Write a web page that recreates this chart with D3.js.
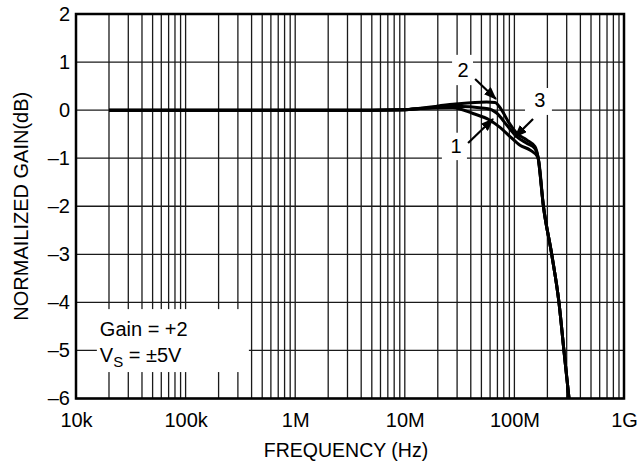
<!DOCTYPE html>
<meta charset="utf-8">
<style>
body { margin: 0; background: #fff; }
text { font-family: "Liberation Sans", Arial, sans-serif; fill: #000; }
.grid line { stroke: #1a1a1a; stroke-width: 1.3px; }
.curve { fill: none; stroke: #000; stroke-width: 3px; stroke-linejoin: round; }
</style>
<svg width="639" height="462"></svg>
<script src="https://cdn.jsdelivr.net/npm/d3@7"></script>
<script>

var svg = d3.select("svg");

// x tick values and labels
var xTicks = [1e4, 1e5, 1e6, 1e7, 1e8, 1e9];
var xTickLabels = ["10k", "100k", "1M", "10M", "100M", "1G"];
var yTicks = [-6, -5, -4, -3, -2, -1, 0, 1, 2];

// curve 1 (lowest near the peak)
var freq1 = [2e4, 1e5, 1e6, 5e6, 1e7, 13.8e6, 27.5e6, 41.9e6, 59.8e6, 73.9e6, 91.2e6, 112.5e6, 138.7e6, 164e6, 184e6, 219e6, 255e6, 283e6, 315e6, 350e6];
var gain1 = [0, 0, 0, 0, 0.01, 0.035, 0.05, -0.07, -0.21, -0.36, -0.55, -0.73, -0.83, -0.98, -2, -3, -4, -5, -6, -7];

// curve 2 (highest peak)
var freq2 = [2e4, 1e5, 1e6, 5e6, 1e7, 13.8e6, 27.5e6, 55.8e6, 66.5e6, 76.6e6, 88e6, 105e6, 129.5e6, 154e6, 164e6, 184e6, 219e6, 255e6, 283e6, 315e6, 350e6];
var gain2 = [0, 0, 0, 0, 0.01, 0.04, 0.12, 0.17, 0.16, 0, -0.24, -0.48, -0.62, -0.76, -0.97, -2, -3, -4, -5, -6, -7];

// curve 3 (middle)
var freq3 = [2e4, 1e5, 1e6, 5e6, 1e7, 13.8e6, 27.5e6, 55.8e6, 68.9e6, 85.1e6, 105e6, 129.5e6, 154e6, 164e6, 184e6, 219e6, 255e6, 283e6, 315e6, 350e6];
var gain3 = [0, 0, 0, 0, 0.01, 0.035, 0.08, 0.035, -0.06, -0.31, -0.55, -0.69, -0.8, -0.97, -2, -3, -4, -5, -6, -7];

var pL = 76, pR = 624, pT = 14, pB = 398.5;

var x = d3.scaleLog().domain([1e4, 1e9]).range([pL, pR]);
var y = d3.scaleLinear().domain([-6, 2]).range([pB, pT]);

// grid
var grid = svg.append("g").attr("class", "grid");
grid.selectAll(".v")
  .data(x.ticks())
  .enter().append("line")
    .attr("x1", function(d) { return x(d); })
    .attr("x2", function(d) { return x(d); })
    .attr("y1", pT)
    .attr("y2", pB);
grid.selectAll(".h")
  .data(yTicks)
  .enter().append("line")
    .attr("x1", pL)
    .attr("x2", pR)
    .attr("y1", function(d) { return y(d); })
    .attr("y2", function(d) { return y(d); });

// white boxes behind annotations (data coords)
var boxes = [
  {f0: 15.5e3, f1: 378e3, g0: -4.14, g1: -5.45},
  {f0: 27e6, f1: 41.9e6, g0: 1.15, g1: 0.52},
  {f0: 125e6, f1: 220e6, g0: 0.46, g1: -0.1},
  {f0: 21.8e6, f1: 36.9e6, g0: -0.47, g1: -1.04}
];
svg.selectAll(".box")
  .data(boxes)
  .enter().append("rect")
    .attr("x", function(d) { return x(d.f0); })
    .attr("y", function(d) { return y(d.g0); })
    .attr("width", function(d) { return x(d.f1) - x(d.f0); })
    .attr("height", function(d) { return y(d.g1) - y(d.g0); })
    .attr("fill", "#fff");

// curves
svg.append("clipPath").attr("id", "clip")
  .append("rect")
    .attr("x", pL).attr("y", pT)
    .attr("width", pR - pL).attr("height", pB - pT);

var line = d3.line()
    .x(function(d) { return x(d[0]); })
    .y(function(d) { return y(d[1]); })
    .curve(d3.curveMonotoneX);

[[freq1, gain1], [freq2, gain2], [freq3, gain3]].forEach(function(s) {
  svg.append("path")
    .attr("class", "curve")
    .attr("clip-path", "url(#clip)")
    .attr("d", line(d3.zip(s[0], s[1])));
});

// frame
svg.append("rect")
    .attr("x", pL).attr("y", pT)
    .attr("width", pR - pL).attr("height", pB - pT)
    .attr("fill", "none")
    .attr("stroke", "#000")
    .attr("stroke-width", 2.5);

// axes
var xAxis = svg.append("g")
    .attr("transform", "translate(0," + (pB + 10) + ")")
    .call(d3.axisBottom(x).tickValues(xTicks)
      .tickFormat(function(d, i) { return xTickLabels[i]; })
      .tickSize(0));
xAxis.select(".domain").remove();
xAxis.selectAll("text").attr("font-size", 20).attr("dy", "0.71em").attr("y", 4)
    .style("font-family", "Liberation Sans, Arial, sans-serif");

var yAxis = svg.append("g")
    .attr("transform", "translate(" + (pL - 6) + ",0)")
    .call(d3.axisLeft(y).tickValues(yTicks)
      .tickFormat(function(d) { return d < 0 ? "\u2013" + (-d) : d; })
      .tickSize(0));
yAxis.select(".domain").remove();
yAxis.selectAll("text").attr("font-size", 20).attr("x", 0)
    .style("font-family", "Liberation Sans, Arial, sans-serif");

// titles
svg.append("text")
    .attr("x", (pL + pR) / 2 - 4)
    .attr("y", 457)
    .attr("text-anchor", "middle")
    .attr("font-size", 19.5)
    .text("FREQUENCY (Hz)");

svg.append("text")
    .attr("transform", "translate(28," + (pT + pB) / 2 + ") rotate(-90)")
    .attr("text-anchor", "middle")
    .attr("font-size", 20)
    .text("NORMAILIZED GAIN(dB)");

// condition box text
svg.append("text")
    .attr("x", x(16.5e3))
    .attr("y", 336)
    .attr("font-size", 20)
    .text("Gain = +2");
var vs = svg.append("text")
    .attr("x", x(16.5e3))
    .attr("y", 362)
    .attr("font-size", 20);
vs.append("tspan").text("V");
vs.append("tspan").attr("font-size", 15).attr("dy", 5).text("S");
vs.append("tspan").attr("dy", -5).text(" = \u00b15V");

// curve labels and arrows
var labels = [
  {t: "2", f: 34e6, g: 0.835},
  {t: "3", f: 171e6, g: 0.211},
  {t: "1", f: 29.3e6, g: -0.746}
];
var arrows = [
  {f0: 43.8e6, g0: 0.648, f1: 67.9e6, g1: 0.232},
  {f0: 148e6, g0: -0.184, f1: 101e6, g1: -0.559},
  {f0: 37.8e6, g0: -0.684, f1: 63.8e6, g1: -0.184}
];

svg.append("defs").append("marker")
    .attr("id", "head")
    .attr("markerUnits", "userSpaceOnUse")
    .attr("markerWidth", 13).attr("markerHeight", 10)
    .attr("refX", 12).attr("refY", 5)
    .attr("orient", "auto")
  .append("path")
    .attr("d", "M0,0L13,5L0,10Z")
    .attr("fill", "#000");

svg.selectAll(".arrow")
  .data(arrows)
  .enter().append("line")
    .attr("x1", function(d) { return x(d.f0); })
    .attr("y1", function(d) { return y(d.g0); })
    .attr("x2", function(d) { return x(d.f1); })
    .attr("y2", function(d) { return y(d.g1); })
    .attr("stroke", "#000")
    .attr("stroke-width", 2.2)
    .attr("marker-end", "url(#head)");

svg.selectAll(".lbl")
  .data(labels)
  .enter().append("text")
    .attr("x", function(d) { return x(d.f); })
    .attr("y", function(d) { return y(d.g); })
    .attr("dy", "0.36em")
    .attr("text-anchor", "middle")
    .attr("font-size", 20)
    .text(function(d) { return d.t; });

</script>
